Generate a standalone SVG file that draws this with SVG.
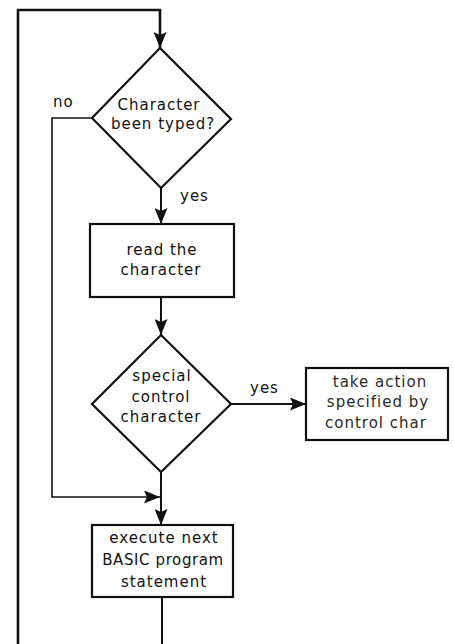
<svg xmlns="http://www.w3.org/2000/svg" width="454" height="644" viewBox="0 0 454 644">
<defs>
<style>
.shape{fill:#fff;stroke:#111;stroke-width:2.2}
.line{fill:none;stroke:#111;stroke-width:2}
.t{font-family:"DejaVu Sans",sans-serif;font-size:15px;letter-spacing:1px;fill:#111;text-anchor:middle}
.tl{text-anchor:start}
.light{fill:#2a2a2a}
</style>
<marker id="ah" markerUnits="userSpaceOnUse" markerWidth="16" markerHeight="13" refX="16" refY="6.5" orient="auto">
<path d="M0,0 L16,6.5 L0,13 L3,6.5 z" fill="#111"/>
</marker>
</defs>
<rect width="454" height="644" fill="#fff"/>
<g id="connectors">
<path class="line" d="M18,644 V10 H160 V48" style="stroke-width:2.6" marker-end="url(#ah)"/>
<path class="line" d="M92,118 H52 V497 H160" style="stroke-width:1.6" marker-end="url(#ah)"/>
<path class="line" d="M161,188 V224" marker-end="url(#ah)"/>
<path class="line" d="M161,297 V335" marker-end="url(#ah)"/>
<path class="line" d="M231,404 H306" marker-end="url(#ah)"/>
<path class="line" d="M161,472 V525" marker-end="url(#ah)"/>
<path class="line" d="M162,597 V644"/>
<text class="t tl" x="53" y="107">no</text>
<text class="t tl" x="180" y="201">yes</text>
<text class="t tl" x="250" y="393">yes</text>
</g>
<g id="typed">
<polygon class="shape" points="160,48 231,119 161,188 92,118"/>
<text class="t" x="159" y="110">Character</text>
<text class="t" x="163" y="129">been typed?</text>
</g>
<g id="read">
<rect class="shape" x="90" y="224" width="144" height="73"/>
<text class="t" x="162" y="255">read the</text>
<text class="t" x="161" y="275">character</text>
</g>
<g id="special">
<polygon class="shape" points="161,335 231,404 161,472 92,404"/>
<text class="t" x="162" y="381">special</text>
<text class="t" x="161" y="402">control</text>
<text class="t" x="161" y="422">character</text>
</g>
<g id="action">
<rect class="shape" x="306" y="368" width="142" height="72"/>
<text class="t light" x="380" y="387">take action</text>
<text class="t light" x="378" y="407">specified by</text>
<text class="t light" x="376" y="428">control char</text>
</g>
<g id="execute">
<rect class="shape" x="92" y="525" width="141" height="72"/>
<text class="t" x="164" y="543">execute next</text>
<text class="t" x="163" y="565" style="letter-spacing:0.6px">BASIC program</text>
<text class="t" x="164" y="587">statement</text>
</g>
</svg>
